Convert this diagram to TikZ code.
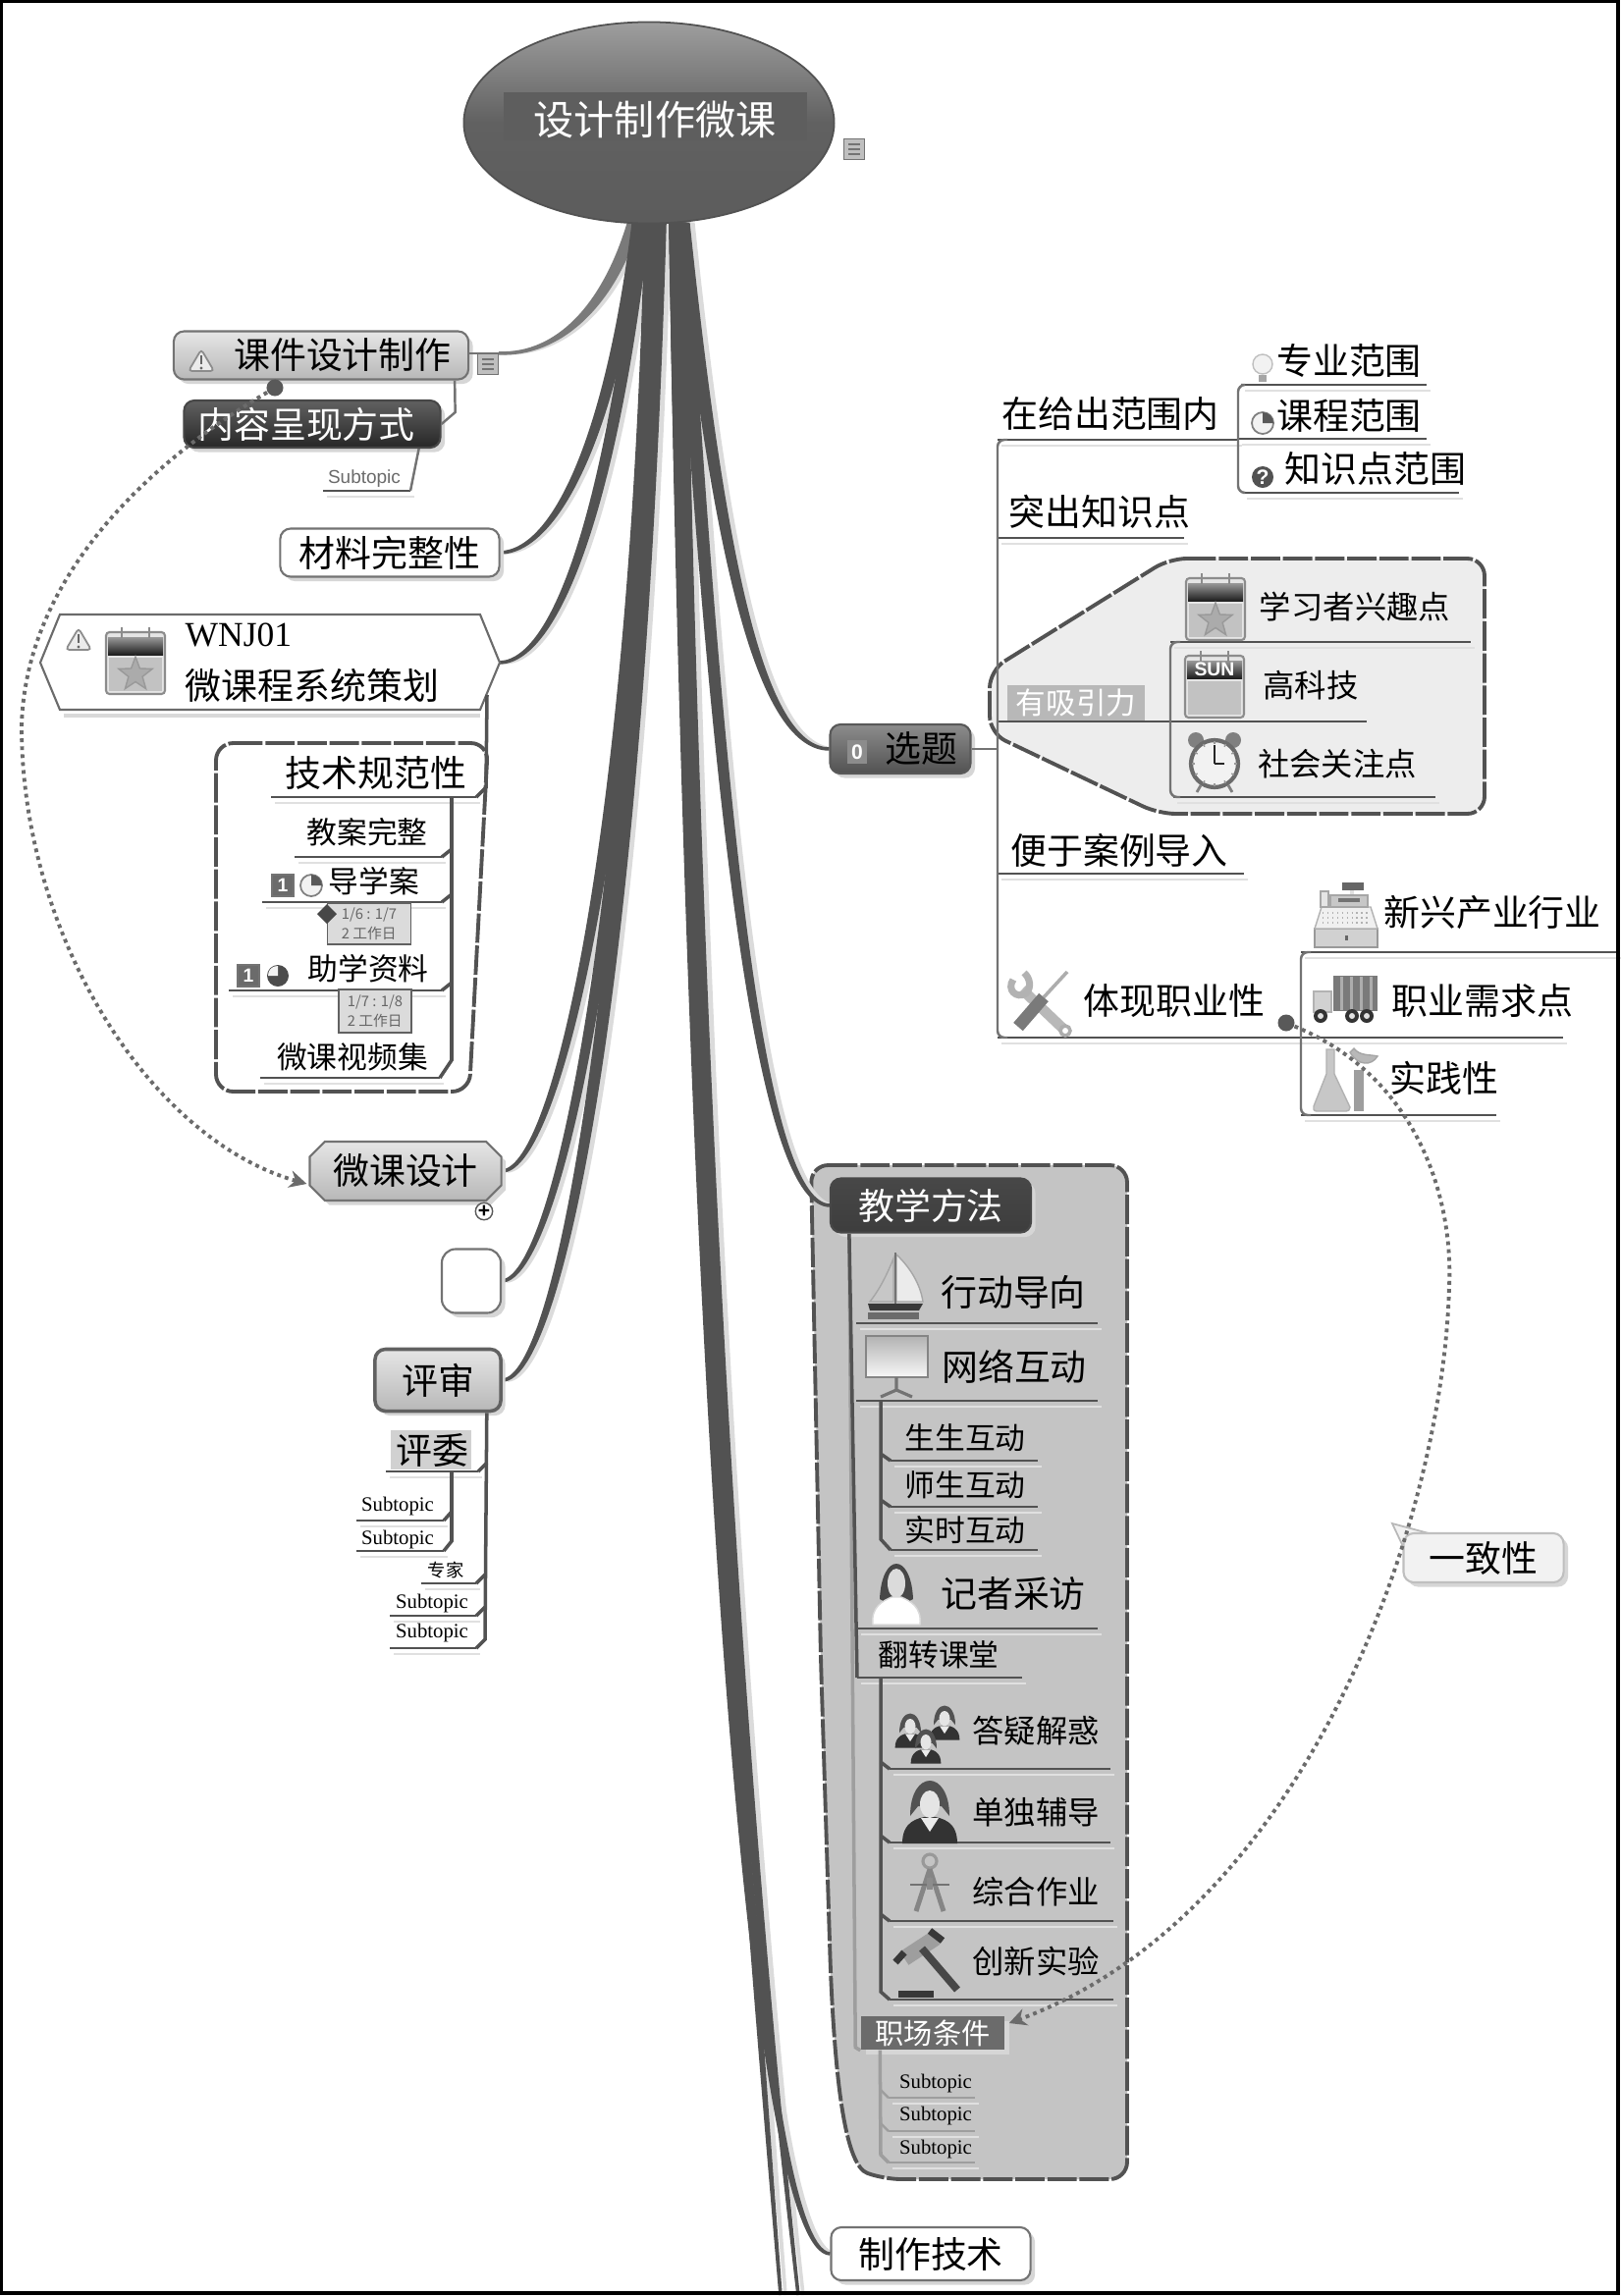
\documentclass[tikz,border=0pt]{standalone}
\usepackage{fontspec}
\setmainfont{Noto Sans CJK SC}
\newfontfamily\serifword{Liberation Serif}
\newfontfamily\sansword{Liberation Sans}
\usepackage{tikz}
\usetikzlibrary{positioning,arrows.meta,calc,shapes.geometric,shapes.misc,shadows,backgrounds}

\tikzset{
  tx29/.style={inner sep=0pt, font=\fontsize{8.3}{10}\selectfont},
  tx30/.style={inner sep=0pt, font=\fontsize{8.75}{10}\selectfont},
  tx32/.style={inner sep=0pt, font=\fontsize{9.2}{11}\selectfont},
  tx37/.style={inner sep=0pt, font=\fontsize{10.5}{12}\selectfont},
  tx41/.style={inner sep=0pt, font=\fontsize{11.7}{14}\selectfont},
  txsub/.style={inner sep=0pt, font=\serifword\fontsize{5.9}{7}\selectfont},
  ruleline/.style={draw=black!68, line width=0.8pt},
  ruleshadow/.style={draw=black!12, line width=0.8pt},
  treeline/.style={draw=black!68, line width=1pt},
  thinline/.style={draw=black!55, line width=0.7pt},
  paleline/.style={draw=black!38, line width=0.7pt},
  groupline/.style={draw=black!68, line width=1.1pt, dash pattern=on 8.5pt off 0.8pt, rounded corners=5pt},
  relline/.style={draw=black!58, line width=1.1pt, dash pattern=on 1.1pt off 1.2pt},
  nodeshadow/.style={drop shadow={shadow xshift=1.3pt, shadow yshift=-1.3pt, fill=black!16, opacity=1}},
  topicbox/.style={rectangle, rounded corners=3pt, inner sep=0pt, draw=black!55, line width=0.6pt, nodeshadow},
  lightbox/.style={topicbox, top color=black!10, bottom color=black!28},
  darkbox/.style={topicbox, text=white, draw=black!72, top color=black!62, bottom color=black!85},
  whitebox/.style={topicbox, fill=white},
  blockdot/.style={circle, fill=black!65, minimum size=0.17cm, inner sep=0pt},
  numbadge/.style={rectangle, draw=black!55, fill=black!58, text=white, minimum size=0.22cm, inner sep=0pt, font=\sansword\bfseries\fontsize{5.5}{6}\selectfont},
  datebox/.style={rectangle, draw=black!62, fill=black!14, inner sep=0pt, align=left, text=black!60, font=\fontsize{4.2}{5.6}\selectfont},
  noteicon/.style={rectangle, draw=black!55, fill=black!25, minimum size=0.21cm, inner sep=0pt,
    path picture={\foreach \y in {-5,0,5} \draw[black!55, line width=0.3pt] ($(path picture bounding box.center)+(-6,\y)$) -- +(12,0);}},
  % small pictures beside the topics
  pics/warnicon/.style={code={
    \draw[draw=black!45, fill=black!8, rounded corners=1pt, line width=0.5pt] (0,-12) -- (13,10) -- (-13,10) -- cycle;
    \draw[black!60, line width=0.8pt] (0,-6) -- (0,3);
    \fill[black!60] (0,7) circle (1.6);
  }},
  pics/calbase/.style={code={
    \draw[draw=black!45, fill=black!10, rounded corners=1pt, line width=0.6pt] (-30,-30) rectangle (30,33);
    \shade[top color=black!40, bottom color=black!88] (-28,-25) rectangle (28,-7);
    \fill[black!24] (-27,-4) rectangle (27,30);
    \foreach \x in {-14,14} \draw[black!45, line width=0.6pt] (\x,-35) -- (\x,-24);
  }},
  pics/calstar/.style={code={
    \pic at (0,0) {calbase};
    \draw[draw=black!40, fill=black!33, shift={(0,13)}] (0,-18) -- (4.4,-6) -- (17.1,-5.6) -- (7.1,2.3) -- (10.6,14.6) -- (0,7.5) -- (-10.6,14.6) -- (-7.1,2.3) -- (-17.1,-5.6) -- (-4.4,-6) -- cycle;
  }},
  pics/calsun/.style={code={
    \pic at (0,0) {calbase};
    \node[text=white, inner sep=0pt, font=\sansword\bfseries\fontsize{5.5}{6}\selectfont] (sunword) at (0,-16) {SUN};
  }},
  pics/piequarter/.style={code={
    \draw[draw=black!50, fill=black!5, line width=0.5pt] (0,0) circle (11);
    \fill[black!65] (0,0) -- (0,-11) .. controls (6,-11) and (11,-6) .. (11,0) -- cycle;
  }},
  pics/piemost/.style={code={
    \fill[black!70] (0,0) circle (11);
    \fill[black!5] (0,0) -- (0,-10) .. controls (-6,-10) and (-10,-6) .. (-10,0) -- cycle;
  }},
  pics/bulbicon/.style={code={
    \draw[draw=black!25, fill=black!5] (0,-4) circle (10);
    \fill[black!35] (-4,7) rectangle (4,14);
  }},
  pics/clockicon/.style={code={
    \fill[black!50] (-19,-22) circle (8) (19,-22) circle (8);
    \draw[draw=black!58, fill=black!5, line width=1.2pt] (0,2) circle (24);
    \foreach \a in {0,30,...,330} \draw[black!40] ($(0,2)+(\a:20)$) -- ($(0,2)+(\a:23)$);
    \draw[black!85, line width=0.6pt] (0,2) -- (0,-17);
    \draw[black!85, line width=0.6pt] (0,2) -- (10,2);
    \draw[black!50, line width=0.8pt] (-14,24) -- (-18,31) (14,24) -- (18,31);
  }},
  pics/registericon/.style={code={
    \draw[draw=black!40, fill=black!18] (-32,14) rectangle (32,33);
    \draw[draw=black!30, fill=black!6] (-25,-8) -- (25,-8) -- (32,14) -- (-32,14) -- cycle;
    \foreach \y in {-2,3,8} \draw[black!30, densely dotted] (-24,\y) -- (24,\y);
    \fill[black!60] (-4,-33) rectangle (18,-25);
    \fill[black!12] (4,-25) rectangle (8,-20);
    \draw[draw=black!35, fill=black!10] (-26,-24) rectangle (-18,-8);
    \draw[draw=black!35, fill=black!22] (-16,-20) rectangle (22,-8);
    \fill[black!55] (-8,-17) rectangle (14,-13);
    \fill[black!60] (-1,21) rectangle (2,26);
  }},
  pics/truckicon/.style={code={
    \fill[black!52] (-13,-24) rectangle (32,12);
    \foreach \x in {-6,4,14,24} \fill[black!32] (\x,-23) rectangle ({\x+2.5},11);
    \draw[draw=black!30, fill=black!18] (-33,-8) -- (-15,-8) -- (-15,13) -- (-33,13) -- cycle;
    \foreach \x in {-26,6,21} {
      \fill[black!80] (\x,17) circle (7);
      \fill[black!12] (\x,17) circle (3);
    }
  }},
  pics/flaskicon/.style={code={
    \draw[draw=black!30, fill=black!22] (-14,-31) -- (-6,-31) -- (-6,-6) -- (10,28) .. controls (10,31) and (8,32) .. (6,32) -- (-24,32) .. controls (-27,32) and (-28,29) .. (-27,27) -- (-14,-6) -- cycle;
    \draw[draw=black!35, fill=black!28] (10,-28) .. controls (18,-14) and (32,-14) .. (38,-24) .. controls (30,-26) and (20,-24) .. (14,-32) -- cycle;
    \fill[black!38] (14,-10) rectangle (24,32);
  }},
  pics/toolsicon/.style={code={
    \draw[black!28, line width=3pt] (-20,-14) -- (24,28);
    \draw[black!30, line width=2pt] (-29,-24) .. controls (-36,-14) and (-26,-4) .. (-16,-10) .. controls (-10,-16) and (-12,-26) .. (-18,-31);
    \draw[black!32, line width=1pt] (26,-32) -- (2,-6);
    \draw[black!52, line width=3.6pt] (2,-6) -- (-24,24);
    \draw[draw=black!32, fill=white, line width=1pt] (24,28) circle (5);
  }},
  pics/boaticon/.style={code={
    \draw[draw=black!35, fill=black!8] (1,-32) .. controls (18,-16) and (26,2) .. (28,16) -- (1,16) -- cycle;
    \draw[draw=black!35, fill=black!22] (-2,-28) .. controls (-10,-8) and (-18,6) .. (-26,16) -- (-2,16) -- cycle;
    \draw[black!55, line width=0.8pt] (0,-34) -- (0,19);
    \fill[black!78] (-28,18) -- (28,18) -- (24,25) -- (-26,25) -- cycle;
    \fill[black!58] (-28,27) rectangle (24,34);
  }},
  pics/boardicon/.style={code={
    \shade[draw=black!48, line width=0.8pt, top color=black!30, bottom color=black!3] (-31,-21) rectangle (32,21);
    \draw[black!55, line width=0.9pt] (0,21) -- (0,35) (-16,41) -- (0,34) -- (16,41);
  }},
  pics/womanicon/.style={code={
    \fill[black!72] (-17,6) .. controls (-15,-42) and (15,-42) .. (17,6) .. controls (8,12) and (-8,12) .. (-17,6) -- cycle;
    \fill[black!14] (0,-10) ellipse (9 and 15);
    \draw[draw=black!15, fill=white] (-24,32) .. controls (-26,14) and (-14,8) .. (-5,4) -- (5,4) .. controls (14,8) and (26,14) .. (24,32) -- cycle;
  }},
  pics/suiticon/.style={code={
    \fill[black!80] (-28,34) .. controls (-28,12) and (-14,8) .. (0,6) .. controls (14,8) and (28,12) .. (28,34) -- cycle;
    \fill[black!68] (-20,6) .. controls (-20,-42) and (20,-42) .. (20,6) -- (12,-4) -- (-12,-4) -- cycle;
    \fill[black!10] (0,-6) ellipse (10 and 14);
    \fill[black!8] (-9,8) -- (0,22) -- (9,8) -- cycle;
  }},
  pics/compassicon/.style={code={
    \draw[black!40, line width=0.9pt] (0,-23) circle (7);
    \draw[black!48, line width=1.4pt] (0,-15) -- (-14,28) (0,-15) -- (14,28);
    \draw[black!55, line width=0.6pt] (-20,1) -- (20,1);
    \fill[black!45] (-3,-6) rectangle (3,6);
  }},
  pics/gavelicon/.style={code={
    \draw[black!38, line width=4.6pt] (-24,-8) -- (8,-29);
    \draw[black!78, line width=2pt] (-33,-4) -- (-24,-14) (2,-36) -- (15,-26);
    \draw[black!72, line width=2.2pt] (-6,-18) -- (30,24);
    \fill[black!78] (-30,25) rectangle (6,32);
  }},
}

% one topic with the line under its text
\newcommand{\topicleaf}[7][tx32]{%
  \node[#1] (#2) at (#6) {#7};
  \coordinate (#2-l) at (#3,#5);
  \coordinate (#2-r) at (#4,#5);
  \draw[ruleshadow] ($(#2-l)+(4,6)$) -- ($(#2-r)+(4,6)$);
  \draw[ruleline] (#2-l) -- (#2-r);
}
% tapered branch out of the central topic
\newcommand{\mapbranch}[5]{%
  \draw[draw=\col, fill=\col, line width=1pt]
    ($(root.south)+({#2-#3+\off},0)$)
    .. controls ($(#4)+({\off-.95*#3},0)$) and ($(#5)+({\off-.3*#3},0)$) .. ($(#1)+(\off,0)$)
    .. controls ($(#5)+({\off+.3*#3},0)$) and ($(#4)+({\off+.95*#3},0)$) .. ($(root.south)+({#2+#3+\off},0)$) -- cycle;
}

\begin{document}
\begin{tikzpicture}[x=0.01cm, y=-0.01cm]
\useasboundingbox (0,0) rectangle (1650,2339);

% central topic
\node[ellipse, minimum width=3.77cm, minimum height=2.05cm, inner sep=0pt, top color=black!38, bottom color=black!64, middle color=black!62, draw=black!68, line width=0.5pt] (root) at (661,125) {};
\fill[black!63] (513,94) rectangle (822,143);
\node[tx41, text=white] (roottext) at (667,122) {设计制作微课};
\node[noteicon] (note0) at (870,152) {};

% left side
\node[lightbox, minimum width=3.00cm, minimum height=0.49cm, font=\fontsize{10.5}{12}\selectfont] (kejian) at (327,362) {\hspace*{12.5pt}课件设计制作};
\pic at (205,368) {warnicon};
\node[noteicon] (note1) at (497,371) {};
\node[darkbox, minimum width=2.61cm, minimum height=0.48cm, font=\fontsize{10.5}{12}\selectfont] (neirong) at (318,432) {内容呈现方式\hspace*{3.4pt}};
\node[blockdot] (dot1) at (280,395) {};
\topicleaf[inner sep=0pt, text=black!58, font=\sansword\fontsize{5.4}{7}\selectfont]{subneirong}{329}{418}{500}{371,488}{Subtopic}
\node[whitebox, minimum width=2.23cm, minimum height=0.49cm, font=\fontsize{10.5}{12}\selectfont] (cailiao) at (397,563) {材料完整性};

% hexagon topic
\draw[draw=black!15, line width=1pt] (65,729) -- (489,729);
\draw[draw=black!58, fill=white, line width=0.6pt] (61,626) -- (489,626) -- (509,675) -- (489,723) -- (61,723) -- (41,675) -- cycle;
\coordinate (wnj-e) at (509,675);
\coordinate (wnj-b) at (496,708);
\pic at (80,652) {warnicon};
\pic at (138,674) {calstar};
\node[inner sep=0pt, anchor=west, font=\serifword\fontsize{10.1}{12}\selectfont] (wnjcode) at (188,647) {WNJ01};
\node[tx37, anchor=west] (wnjtitle) at (188,698) {微课程系统策划};

% tree under the hexagon
\topicleaf[tx37]{jishu}{276}{485}{812}{383,787}{技术规范性}
\topicleaf[tx30]{jiaoan}{300}{450}{873}{374,848}{教案完整}
\topicleaf[tx30]{daoxue}{267}{450}{919}{381,898}{导学案}
\node[numbadge] (badge1) at (288,902) {1};
\pic at (317,902) {piequarter};
\node[datebox, minimum width=0.85cm, minimum height=0.42cm] (date1) at (376,941) {1/6 : 1/7\\2 工作日};
\fill[black!72] (333,921) -- (343,931) -- (333,941) -- (323,931) -- cycle;
\topicleaf[tx30]{zhuxue}{233}{450}{1009}{375,987}{助学资料}
\node[numbadge] (badge2) at (253,994) {1};
\pic at (283,994) {piemost};
\node[datebox, minimum width=0.74cm, minimum height=0.44cm] (date2) at (382,1030) {1/7 : 1/8\\2 工作日};
\topicleaf[tx30]{shipin}{265}{448}{1098}{359,1077}{微课视频集}

% lower topics on the left
\node[lightbox, chamfered rectangle, chamfered rectangle xsep=2.2pt, chamfered rectangle ysep=2.2pt, rounded corners=0pt, minimum width=1.95cm, minimum height=0.60cm, font=\fontsize{10.5}{12}\selectfont] (weike) at (413,1193) {微课设计};
\node[circle, draw=black!65, fill=white, minimum size=0.16cm, inner sep=0pt, font=\sansword\bfseries\fontsize{6}{6}\selectfont] (plus) at (493,1234) {+};
\node[whitebox, minimum width=0.60cm, minimum height=0.65cm, rounded corners=4pt] (kong) at (480,1305) {};
\node[lightbox, draw=black!62, line width=1pt, minimum width=1.28cm, minimum height=0.63cm, font=\fontsize{10.5}{12}\selectfont] (pingshen) at (446,1406) {评审};

\node[rectangle, fill=black!18, inner sep=0pt, minimum width=0.82cm, minimum height=0.40cm] (pingweibg) at (439,1477) {};
\topicleaf[tx37]{pingwei}{393}{487}{1499}{440,1477}{评委}
\topicleaf[txsub]{pwsuba}{363}{452}{1549}{405,1534}{Subtopic}
\topicleaf[txsub]{pwsubb}{363}{452}{1580}{405,1568}{Subtopic}
\topicleaf[inner sep=0pt, font=\fontsize{5.2}{7}\selectfont]{zhuanjia}{429}{485}{1613}{454,1599}{专家}
\topicleaf[txsub]{psuba}{397}{485}{1646}{440,1633}{Subtopic}
\topicleaf[txsub]{psubb}{397}{485}{1679}{440,1663}{Subtopic}

% right side: xuanti
\node[topicbox, draw=black!65, top color=black!45, bottom color=black!68, minimum width=1.43cm, minimum height=0.50cm, font=\fontsize{10.5}{12}\selectfont] (xuanti) at (917,763) {\hspace*{12pt}选题};
\node[rectangle, fill=black!45, text=white, minimum width=0.2cm, minimum height=0.24cm, inner sep=0pt, font=\sansword\bfseries\fontsize{6}{6}\selectfont] (xuantinum) at (873,766) {0};

\topicleaf[tx37]{fanwei}{1016}{1261}{448}{1131,422}{在给出范围内}
\topicleaf[tx37]{zhuanye}{1264}{1453}{392}{1374,367}{专业范围}
\pic at (1286,375) {bulbicon};
\topicleaf[tx37]{kecheng}{1261}{1453}{447}{1374,423}{课程范围}
\pic at (1286,431) {piequarter};
\topicleaf[tx37]{zhishi}{1266}{1486}{502}{1401,477}{知识点范围}
\node[circle, fill=black!68, text=white, minimum size=0.22cm, inner sep=0pt, font=\sansword\bfseries\fontsize{6}{7}\selectfont] (wenhao) at (1286,486) {?};
\topicleaf[tx37]{tuchu}{1016}{1206}{548}{1120,521}{突出知识点}

\node[rectangle, fill=black!28, text=white, minimum width=1.40cm, minimum height=0.35cm, inner sep=0pt, font=\fontsize{8.7}{10}\selectfont] (xiyin) at (1096,716) {有吸引力};
\coordinate (xiyin-l) at (1016,735);
\coordinate (xiyin-r) at (1392,735);
\draw[ruleline] (xiyin-l) -- (xiyin-r);
\topicleaf[tx32]{xingqu}{1192}{1498}{654}{1380,618}{学习者兴趣点}
\pic at (1238,619) {calstar};
\node[tx32] (gaoke) at (1335,698) {高科技};
\pic at (1237,698) {calsun};
\topicleaf[tx32]{shehui}{1195}{1462}{812}{1362,778}{社会关注点}
\pic at (1237,776) {clockicon};

\topicleaf[tx37]{anli}{1016}{1267}{890}{1140,866}{便于案例导入}
\topicleaf[tx37]{zhiye}{1016}{1326}{1057}{1196,1020}{体现职业性}
\pic at (1061,1022) {toolsicon};
\topicleaf[tx37]{xinxing}{1325}{1647}{970}{1520,930}{新兴产业行业}
\pic at (1371,932) {registericon};
\topicleaf[tx37]{xuqiu}{1325}{1592}{1057}{1510,1019}{职业需求点}
\pic at (1371,1018) {truckicon};
\topicleaf[tx37]{shijian}{1325}{1524}{1136}{1471,1098}{实践性}
\pic at (1365,1100) {flaskicon};
\node[blockdot] (dot2) at (1310,1042) {};

% right side: jiaoxue
\node[darkbox, fill=black!72, top color=black!72, bottom color=black!76, minimum width=2.04cm, minimum height=0.55cm, font=\fontsize{10.5}{12}\selectfont] (jiaoxue) at (948,1228) {教学方法};
\topicleaf[tx37]{xingdong}{872}{1118}{1348}{1032,1316}{行动导向}
\pic at (912,1310) {boaticon};
\topicleaf[tx37]{wangluo}{872}{1118}{1427}{1033,1392}{网络互动}
\pic at (913,1382) {boardicon};
\topicleaf[tx30]{shengsheng}{907}{1057}{1488}{983,1465}{生生互动}
\topicleaf[tx30]{shisheng}{907}{1057}{1535}{983,1513}{师生互动}
\topicleaf[tx30]{shishi}{907}{1057}{1579}{983,1559}{实时互动}
\topicleaf[tx37]{jizhe}{873}{1118}{1659}{1032,1623}{记者采访}
\pic at (913,1623) {womanicon};
\topicleaf[tx30]{fanzhuan}{873}{1041}{1709}{956,1686}{翻转课堂}
\topicleaf[tx32]{dayi}{906}{1131}{1802}{1055,1763}{答疑解惑}
\pic[scale=0.55] at (927,1762) {suiticon};
\pic[scale=0.55] at (962,1754) {suiticon};
\pic[scale=0.55] at (943,1778) {suiticon};
\topicleaf[tx32]{dandu}{906}{1131}{1877}{1055,1846}{单独辅导}
\pic at (947,1844) {suiticon};
\topicleaf[tx32]{zonghe}{906}{1134}{1957}{1055,1927}{综合作业}
\pic at (947,1919) {compassicon};
\topicleaf[tx32]{chuangxin}{906}{1134}{2037}{1055,1998}{创新实验}
\pic at (945,2003) {gavelicon};
\node[rectangle, fill=black!58, text=white, minimum width=1.46cm, minimum height=0.34cm, inner sep=0pt, nodeshadow, font=\fontsize{8.3}{10}\selectfont] (zhichang) at (950,2071) {职场条件};
\topicleaf[txsub]{zcsuba}{905}{993}{2137}{953,2122}{Subtopic}
\topicleaf[txsub]{zcsubb}{905}{993}{2171}{953,2155}{Subtopic}
\topicleaf[txsub]{zcsubc}{905}{993}{2203}{953,2189}{Subtopic}

\node[whitebox, minimum width=2.03cm, minimum height=0.54cm, font=\fontsize{10.5}{12}\selectfont] (zhizuo) at (948,2296) {制作技术};
\coordinate (endleft) at (795,2338);
\coordinate (endright) at (813,2338);

% callout
\draw[draw=black!28, fill=black!5, line width=0.5pt] (1470,1566) -- (1418,1552) -- (1434,1586) -- cycle;
\node[topicbox, draw=black!25, fill=black!5, minimum width=1.63cm, minimum height=0.50cm, font=\fontsize{10.5}{12}\selectfont] (yizhi) at (1511,1587) {一致性};

% tree lines
\draw[treeline] (wnj-b) -- ($(jishu-r)+(10,-10)$) -- (jishu-r);
\draw[treeline] ($(jishu-r)+(-25,0)$) -- ($(shipin-r)+(12,-18)$) -- (shipin-r);
\foreach \n in {jiaoan,daoxue,zhuxue}
  \draw[treeline] (\n-r) -- ++(10,-8);
\draw[treeline] ($(pingshen.south east)+(-16,0)$) -- ($(psubb-r)+(9,-9)$) -- (psubb-r);
\foreach \n in {pingwei,zhuanjia,psuba}
  \draw[treeline] (\n-r) -- ++(9,-9);
\draw[treeline] ($(pingwei-l)+(67,0)$) -- ($(pwsubb-r)+(8,-10)$) -- (pwsubb-r);
\draw[treeline] (pwsuba-r) -- ++(8,-9);
\draw[thinline] ($(kejian.south east)+(-15,0)$) -- ($(neirong.east)+(14,-12)$) -- (neirong.east);
\draw[thinline] ($(neirong.south east)+(-23,0)$) -- (subneirong-r);

\draw[thinline] (xuanti.east) -- (xuanti.east -| zhiye-l);
\draw[thinline, rounded corners=2pt] (fanwei-l) ++(10,0) -- (fanwei-l) -- (zhiye-l) -- ++(10,0);
\draw[thinline, rounded corners=2pt] (zhuanye-l) -- (zhuanye-l -| fanwei-r) -- (fanwei-r |- zhishi-l) -- (zhishi-l);
\draw[thinline, rounded corners=2pt] (xingqu-l) ++(10,0) -- (xingqu-l) -- (xingqu-l |- shehui-l) -- ++(10,0);
\draw[thinline, rounded corners=2pt] (xinxing-l) ++(10,0) -- (xinxing-l) -- (shijian-l) -- ++(10,0);

\draw[paleline, line width=1pt] ($(jiaoxue.south west)+(20,0)$) -- ($(zhichang.south west)+(-5,-3)$) -- (zhichang.south west);
\draw[treeline] ($(jiaoxue.south west)+(20,0)$) -- (fanzhuan-l);
\draw[treeline] ($(wangluo-l)+(25,0)$) -- ($(shishi-l)+(-10,-11)$) -- (shishi-l);
\foreach \n in {shengsheng,shisheng}
  \draw[treeline] (\n-l) -- ++(-10,-7);
\draw[treeline] ($(fanzhuan-l)+(24,0)$) -- ($(chuangxin-l)+(-9,-8)$) -- (chuangxin-l);
\foreach \n in {dayi,dandu,zonghe}
  \draw[treeline] (\n-l) -- ++(-9,-7);
\draw[paleline, line width=1pt] ($(zhichang.south west)+(20,0)$) -- ($(zcsubc-l)+(-8,-8)$) -- (zcsubc-l);
\foreach \n in {zcsuba,zcsubb}
  \draw[paleline] (\n-l) -- ++(-8,-8);
\foreach \n in {zcsuba,zcsubb,zcsubc}
  \draw[paleline, line width=0.8pt] (\n-l) -- (\n-r);

\draw[thinline] (note1.north east) -- (kejian.east |- note1.north east);

% relations
\draw[relline, -{Stealth[length=5pt,width=5pt]}] (dot1) .. controls (120,490) and (25,610) .. (22,740) .. controls (22,950) and (150,1160) .. ($(weike.west)+(-2,13)$);
\draw[relline, -{Stealth[length=5pt,width=5pt]}] (dot2) .. controls (1450,1100) and (1480,1230) .. (1476,1310) .. controls (1470,1550) and (1330,1950) .. ($(zhichang.east)+(4,-10)$);

% behind everything: group frames and the main branches
\begin{pgfonlayer}{background}
\fill[white] (0,0) rectangle (1650,2339);
\draw[groupline, fill=white] (220,757) -- (497,757) -- (478,1112) -- (220,1112) -- cycle;
\draw[groupline, fill=black!7] (1191,569) -- (1512,569) -- (1512,829) -- (1180,829) -- (1008,747) -- (1008,683) -- cycle;
\draw[groupline, fill=black!23] (826,1187) -- (1148,1187) -- (1148,2220) -- (900,2220) .. controls (862,2206) and (852,2130) .. (846,2010) -- (836,1690) -- cycle;
\foreach \off/\col in {5/black!14, 0/black!52} {
  \mapbranch{note1.north east}{-16}{5}{620,310}{570,362}
}
\foreach \off/\col in {5/black!14, 0/black!68} {
  \mapbranch{cailiao.east}{-11}{5}{625,430}{570,561}
  \mapbranch{wnj-e}{-6}{5}{625,500}{570,673}
  \mapbranch{weike.east}{3}{6}{650,820}{570,1190}
  \mapbranch{kong.east}{5}{6}{648,950}{565,1303}
  \mapbranch{pingshen.east}{9}{7}{648,1000}{570,1404}
  \mapbranch{xuanti.west}{35}{5}{735,600}{780,762}
  \mapbranch{jiaoxue.west}{33}{5}{735,900}{780,1226}
  \mapbranch{zhizuo.west}{29}{7}{710,1500}{770,2292}
  \mapbranch{endleft}{29}{7}{705,1200}{760,1900}
  \mapbranch{endright}{29}{7}{708,1300}{770,1950}
}
\end{pgfonlayer}

% frame
\draw[black, line width=1pt] (1.5,1.5) rectangle (1648,2336);
\end{tikzpicture}
\end{document}
